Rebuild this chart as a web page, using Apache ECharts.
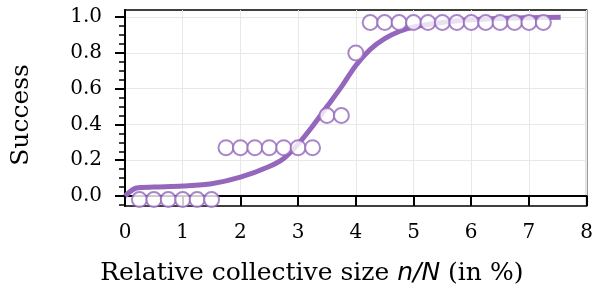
<!DOCTYPE html>
<html>
<head>
<meta charset="utf-8">
<script src="https://cdn.jsdelivr.net/npm/echarts@6/dist/echarts.min.js"></script>
<style>
  html, body { margin: 0; padding: 0; background: #fff; }
  #chart { width: 596px; height: 293px; }
</style>
</head>
<body>
<div id="chart"></div>
<script>
// observed success per collective size
const obsX = [0.25, 0.5, 0.75, 1.0, 1.25, 1.5,
  1.75, 2.0, 2.25, 2.5, 2.75, 3.0, 3.25,
  3.5, 3.75, 4.0,
  4.25, 4.5, 4.75, 5.0, 5.25, 5.5, 5.75, 6.0, 6.25, 6.5, 6.75, 7.0, 7.25]
const obsY = [-0.02, -0.02, -0.02, -0.02, -0.02, -0.02,
  0.27, 0.27, 0.27, 0.27, 0.27, 0.27, 0.27,
  0.45, 0.45, 0.8,
  0.97, 0.97, 0.97, 0.97, 0.97, 0.97, 0.97, 0.97, 0.97, 0.97, 0.97, 0.97, 0.97]

// fitted curve
const fitX = [0, 0.2, 0.5, 1.0, 1.5, 2.0, 2.5, 2.75, 3.0, 3.25, 3.5, 3.75, 4.0, 4.25, 4.5, 4.75, 5.0, 5.5, 6.0, 6.5, 7.0, 7.55]
const fitY = [0.0, 0.045, 0.05, 0.056, 0.068, 0.105, 0.165, 0.21, 0.29, 0.39, 0.5, 0.61, 0.73, 0.82, 0.88, 0.92, 0.945, 0.97, 0.985, 0.993, 0.997, 1.0]

const yTicks = [0, 0.2, 0.4, 0.6, 0.8, 1.0]
const yMinorTicks = [-0.05, 0.05, 0.1, 0.15, 0.25, 0.3, 0.35, 0.45, 0.5, 0.55, 0.65, 0.7, 0.75, 0.85, 0.9, 0.95]

const purple = '#9467bd'
const font = 'DejaVu Serif'
const yMin = -0.056
const yMax = 1.04

const chart = echarts.init(document.getElementById('chart'))

const option = {
  animation: false,
  grid: {
    left: 125, right: 6, top: 10, bottom: 87,
    show: true, borderColor: '#000', borderWidth: 1.5
  },
  xAxis: {
    type: 'value',
    min: 0, max: 8, interval: 1,
    name: '{r|Relative collective size }{i|n/N}{r| (in %)}',
    nameLocation: 'middle',
    nameGap: 55,
    nameTextStyle: {
      // label sits left of the plot centre in the original
      padding: [0, 88, 0, 0],
      rich: {
        r: { fontFamily: font, fontSize: 25, color: '#000' },
        i: { fontFamily: 'DejaVu Sans', fontStyle: 'italic', fontSize: 25, color: '#000' }
      }
    },
    axisLine: { lineStyle: { color: '#000', width: 2 } },
    axisTick: { inside: false, length: 10, lineStyle: { color: '#000', width: 2 } },
    axisLabel: { fontFamily: font, fontSize: 20, color: '#000', margin: 17 },
    splitLine: { show: true, lineStyle: { color: '#e8e8e8', width: 1 } }
  },
  yAxis: [
    {
      type: 'value',
      min: yMin, max: yMax,
      name: 'Success',
      nameLocation: 'middle',
      nameGap: 91,
      nameTextStyle: { fontFamily: font, fontSize: 25, color: '#000', padding: [0, 14, 0, 0] },
      axisLine: { show: true, lineStyle: { color: '#000', width: 2 } },
      axisTick: { show: true, length: 10, customValues: yTicks, lineStyle: { color: '#000', width: 2 } },
      axisLabel: {
        fontFamily: font, fontSize: 20, color: '#000', margin: 23,
        customValues: yTicks,
        formatter: v => v.toFixed(1)
      },
      splitLine: { show: true, lineStyle: { color: '#e8e8e8', width: 1 } }
    },
    {
      // minor ticks only
      type: 'value',
      position: 'left',
      min: yMin, max: yMax,
      axisLine: { show: false },
      axisTick: { show: true, length: 6, customValues: yMinorTicks, lineStyle: { color: '#000', width: 1.5 } },
      axisLabel: { show: false },
      splitLine: { show: false }
    }
  ],
  series: [
    {
      type: 'line',
      data: fitX.map((x, i) => [x, fitY[i]]),
      smooth: 0.3,
      showSymbol: false,
      lineStyle: { color: purple, width: 5 },
      z: 2
    },
    {
      type: 'scatter',
      data: obsX.map((x, i) => [x, obsY[i]]),
      symbol: 'circle',
      symbolSize: 15,
      itemStyle: { color: '#fff', borderColor: purple, borderWidth: 2 },
      z: 3
    }
  ]
}

chart.setOption(option)
</script>
</body>
</html>
